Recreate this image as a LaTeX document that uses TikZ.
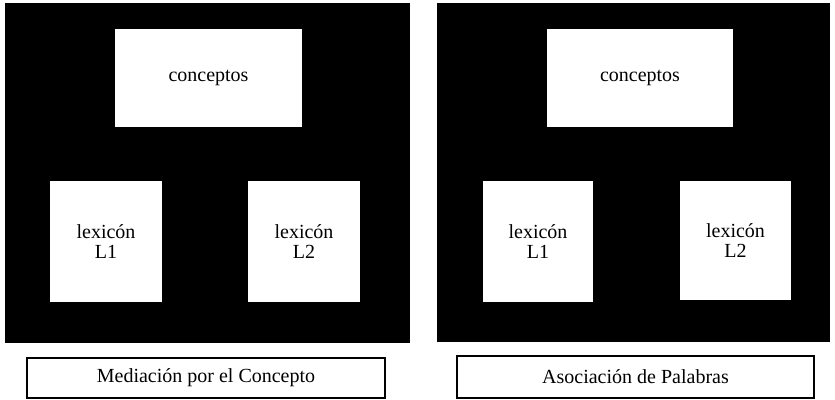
\documentclass[tikz,border=0pt]{standalone}
\usepackage{fontspec}
\setmainfont{Liberation Serif}
\begin{document}
\begin{tikzpicture}[x=1pt,y=-1pt,
  panel/.style={fill=black,inner sep=0pt},
  wbox/.style={fill=white,inner sep=0pt,align=center,
    font=\fontsize{20}{20.5}\selectfont},
  caption/.style={draw=black,line width=1.4pt,fill=white,inner sep=0pt,
    font=\fontsize{20}{21}\selectfont}]
  \useasboundingbox (0,0) rectangle (835,399);

  % mediacion por el concepto
  \node[panel,minimum width=405pt,minimum height=340pt] (medpanel) at (207.5,173) {};
  \node[wbox,minimum width=187pt,minimum height=98pt] (medconc) at (208.5,78) {conceptos};
  \node[wbox,minimum width=112pt,minimum height=121pt] (medlexA) at (106,241.5) {lexicón\\L1};
  \node[wbox,minimum width=112pt,minimum height=121pt] (medlexB) at (304,241.5) {lexicón\\L2};
  \node[caption,minimum width=358pt,minimum height=40pt] (medcap) at (206,378) {Mediación por el Concepto};

  % asociacion de palabras
  \node[panel,minimum width=393pt,minimum height=339pt] (asopanel) at (633.5,172.5) {};
  \node[wbox,minimum width=186pt,minimum height=98pt] (asoconc) at (640,78) {conceptos};
  \node[wbox,minimum width=110pt,minimum height=121pt] (asolexA) at (538,241.5) {lexicón\\L1};
  \node[wbox,minimum width=111pt,minimum height=119pt] (asolexB) at (735.5,240.5) {lexicón\\L2};
  \node[caption,minimum width=357pt,minimum height=42pt] (asocap) at (635.5,377) {Asociación de Palabras};

\end{tikzpicture}
\end{document}
